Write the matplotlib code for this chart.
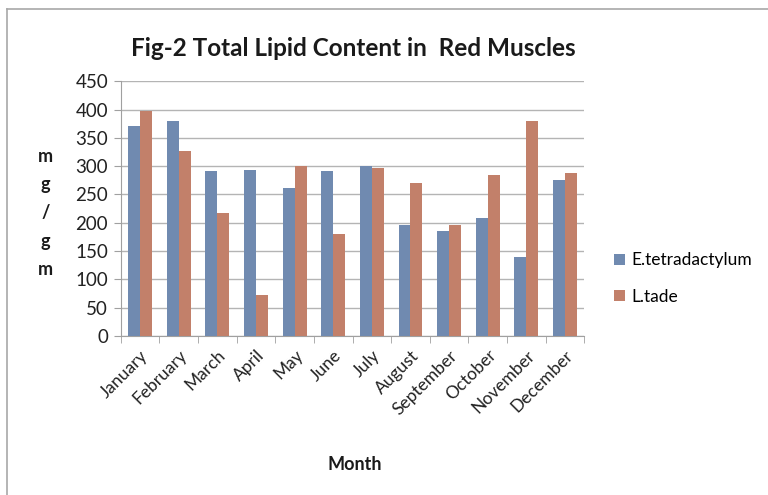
import numpy as np
import matplotlib.pyplot as plt
from matplotlib.lines import Line2D

months = ['January', 'February', 'March', 'April', 'May', 'June', 'July',
          'August', 'September', 'October', 'November', 'December']
e_tetra = [370, 379, 291, 293, 262, 291, 300, 196, 186, 209, 140, 276]
l_tade = [397, 326, 217, 73, 300, 181, 297, 270, 196, 284, 379, 288]

plt.rcParams['font.family'] = ['Lato', 'DejaVu Sans']

fig = plt.figure(figsize=(7.68, 4.95), dpi=100)
ax = fig.add_axes([0.157, 0.321, 0.604, 0.515])

x = np.arange(len(months))
w = 0.31
ax.bar(x - w / 2, e_tetra, w, color='#708AB0', label='E.tetradactylum', zorder=3)
ax.bar(x + w / 2, l_tade, w, color='#C2806A', label='L.tade', zorder=3)

ax.set_xlim(-0.5, len(months) - 0.5)
ax.set_ylim(0, 450)
ax.set_yticks(range(0, 451, 50))
ax.yaxis.grid(True, color='#B4B4B4', lw=1, zorder=0)
ax.set_xticks(x)
ax.set_xticklabels(months, rotation=45, ha='right', rotation_mode='anchor',
                   fontsize=12.5, color='#222222')
ax.set_xticks(np.arange(-0.5, len(months)), minor=True)
ax.tick_params(axis='x', which='major', length=0, pad=8)
ax.tick_params(axis='x', which='minor', length=5, color='#A0A0A0')
ax.tick_params(axis='y', length=5, color='#A0A0A0', labelsize=13.5, pad=4,
               labelcolor='#222222')
for s in ['top', 'right']:
    ax.spines[s].set_visible(False)
for s in ['left', 'bottom']:
    ax.spines[s].set_color('#A0A0A0')

fig.text(0.46, 0.903, 'Fig-2 Total Lipid Content in  Red Muscles',
         ha='center', va='center', fontsize=17.5, fontweight='bold', color='#1A1A1A')
fig.text(0.462, 0.062, 'Month', ha='center', va='center',
         fontsize=13, fontweight='bold', color='#1A1A1A')
fig.text(0.059, 0.57, 'm\ng\n/\ng\nm', ha='center', va='center',
         fontsize=13, fontweight='bold', linespacing=1.8, color='#1A1A1A')

fig.legend(loc='center left', bbox_to_anchor=(0.8, 0.437), frameon=False,
           fontsize=12.5, handlelength=0.6, handleheight=0.6, handletextpad=0.4,
           labelspacing=1.2, borderpad=0, borderaxespad=0)

# chart border (left and top visible)
fig.add_artist(Line2D([0.0095, 0.0095], [0, 0.981], color='#A8A8A8', lw=1.2))
fig.add_artist(Line2D([0.0095, 1], [0.981, 0.981], color='#A8A8A8', lw=1.2))

fig.savefig('out.png', dpi=100)
